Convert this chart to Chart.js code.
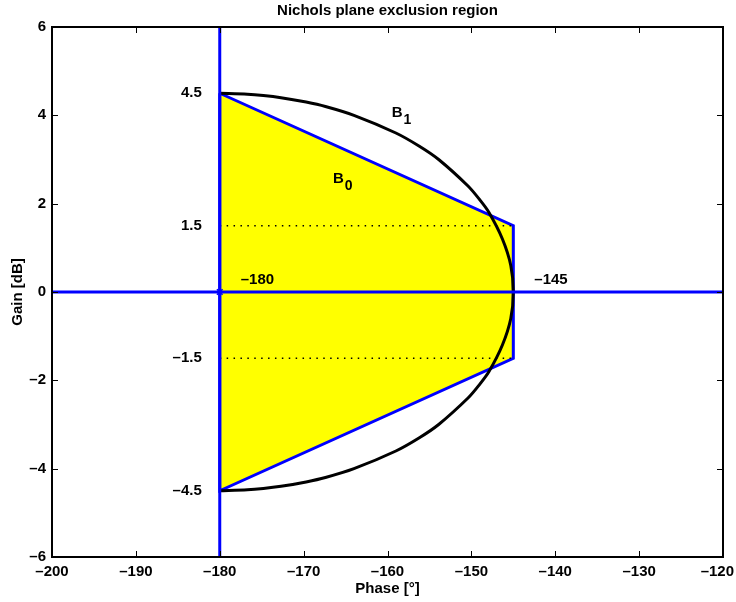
<!DOCTYPE html>
<html>
<head>
<meta charset="utf-8">
<title>Nichols plane exclusion region</title>
<script src="https://cdn.jsdelivr.net/npm/chart.js@4/dist/chart.umd.min.js"></script>
<style>
  html, body { margin: 0; padding: 0; background: #fff; }
  canvas { display: block; }
</style>
</head>
<body>
<canvas id="nichols" width="736" height="602"></canvas>
<script>
// Axis ticks
const phaseTicks = [-200, -190, -180, -170, -160, -150, -140, -130, -120];
const gainTicks = [-6, -4, -2, 0, 2, 4, 6];

// Critical phase and the right edge of the B0 region (deg)
const criticalPhase = -180;
const edgePhase = -145;

// Corner gains of the B0 region (dB), top to bottom
const b0Gains = [4.5, 1.5, -1.5, -4.5];

// B1 boundary, sampled top to bottom
const b1Gain = [4.5, 4.48, 4.45, 4.4, 4.3, 4.2, 4.0, 3.6, 3.3, 3.0, 2.4, 2.1, 1.8, 1.2, 0.6, 0,
                -0.6, -1.2, -1.8, -2.1, -2.4, -3.0, -3.3, -3.6, -4.0, -4.2, -4.3, -4.4, -4.45, -4.48, -4.5];
const b1Phase = [-180, -176.7, -174.8, -172.7, -169.7, -167.4, -164.0, -159.0, -156.2, -153.9, -150.4, -149.05, -147.9, -146.3, -145.3, -145.0,
                 -145.3, -146.3, -147.9, -149.05, -150.4, -153.9, -156.2, -159.0, -164.0, -167.4, -169.7, -172.7, -174.8, -176.7, -180];

const FONT_FAMILY = "'Liberation Sans', Arial, Helvetica, sans-serif";
const BLUE = '#0000ff';
const YELLOW = '#ffff00';

Chart.defaults.font.family = FONT_FAMILY;
Chart.defaults.color = '#000';

const fmt = v => String(v).replace('-', '\u2013');
const pts = (xs, ys) => xs.map((x, i) => ({ x, y: ys[i] }));

// B0 polygon, closed back to its first corner
const b0Outline = [
  { x: criticalPhase, y: b0Gains[0] },
  { x: edgePhase, y: b0Gains[1] },
  { x: edgePhase, y: b0Gains[2] },
  { x: criticalPhase, y: b0Gains[3] },
  { x: criticalPhase, y: b0Gains[0] }
];

const phaseMin = phaseTicks[0], phaseMax = phaseTicks[phaseTicks.length - 1];
const gainMin = gainTicks[0], gainMax = gainTicks[gainTicks.length - 1];

// Boundary names with a subscript index, anchored in data coordinates
const boundaryNames = [
  { base: 'B', sub: '1', phase: -159.5, gain: 4.05 },
  { base: 'B', sub: '0', phase: -166.5, gain: 2.56 }
];

// Box around the plot area with inward ticks on all four sides
const frame = {
  id: 'frame',
  afterDraw(chart) {
    const { ctx, chartArea: a, scales: { x, y } } = chart;
    const len = 6;
    ctx.save();
    ctx.strokeStyle = '#000';
    ctx.lineWidth = 1;
    ctx.beginPath();
    phaseTicks.forEach(v => {
      const px = Math.round(x.getPixelForValue(v)) + 0.5;
      ctx.moveTo(px, a.bottom); ctx.lineTo(px, a.bottom - len);
      ctx.moveTo(px, a.top); ctx.lineTo(px, a.top + len);
    });
    gainTicks.forEach(v => {
      const py = Math.round(y.getPixelForValue(v)) + 0.5;
      ctx.moveTo(a.left, py); ctx.lineTo(a.left + len, py);
      ctx.moveTo(a.right, py); ctx.lineTo(a.right - len, py);
    });
    ctx.stroke();
    ctx.lineWidth = 2;
    ctx.strokeRect(a.left, a.top, a.right - a.left, a.bottom - a.top);
    ctx.restore();
  }
};

// Value labels for the region corners and the boundary names
const textMarks = {
  id: 'textMarks',
  afterDatasetsDraw(chart) {
    const { ctx, scales: { x, y } } = chart;
    ctx.save();
    ctx.fillStyle = '#000';
    ctx.font = 'bold 15px ' + FONT_FAMILY;
    ctx.textBaseline = 'middle';

    const xc = x.getPixelForValue(criticalPhase);
    ctx.textAlign = 'right';
    b0Gains.forEach(g => ctx.fillText(fmt(g), xc - 18, y.getPixelForValue(g)));

    ctx.textAlign = 'left';
    const y0 = y.getPixelForValue(0);
    [criticalPhase, edgePhase].forEach(p => ctx.fillText(fmt(p), x.getPixelForValue(p) + 21, y0 - 12.5));

    boundaryNames.forEach(n => {
      const px = x.getPixelForValue(n.phase);
      const py = y.getPixelForValue(n.gain);
      ctx.font = 'bold 15px ' + FONT_FAMILY;
      ctx.fillText(n.base, px, py);
      const w = ctx.measureText(n.base).width;
      ctx.font = 'bold 14px ' + FONT_FAMILY;
      ctx.fillText(n.sub, px + w + 1, py + 7);
    });
    ctx.restore();
  }
};

// Keep the last phase label inside the canvas
const edgeLabels = {
  id: 'edgeLabels',
  beforeDraw(chart) {
    const sx = chart.scales.x;
    if (!sx || typeof sx.getLabelItems !== 'function') return;
    const items = sx.getLabelItems(chart.chartArea);
    const ctx = chart.ctx;
    ctx.save();
    ctx.font = 'bold 15px ' + FONT_FAMILY;
    items.forEach(it => {
      if (!it || !it.options || !it.options.translation) return;
      const w = ctx.measureText(String(it.label)).width;
      const right = it.options.translation[0] + w / 2;
      if (right > chart.width - 2) {
        it.options.translation[0] = chart.width - 2;
        it.options.textAlign = 'right';
      }
    });
    ctx.restore();
  }
};

const tickFont = { size: 15, weight: 'bold', family: FONT_FAMILY };

new Chart(document.getElementById('nichols'), {
  type: 'scatter',
  data: {
    datasets: [
      {
        label: 'B0',
        data: b0Outline,
        showLine: true,
        fill: 'shape',
        backgroundColor: YELLOW,
        borderColor: BLUE,
        borderWidth: 3,
        pointRadius: 0,
        tension: 0,
        order: 6
      },
      {
        label: 'upper level',
        data: [{ x: criticalPhase, y: b0Gains[1] }, { x: edgePhase, y: b0Gains[1] }],
        showLine: true,
        borderColor: '#000',
        borderWidth: 1.5,
        borderDash: [1.5, 5.4],
        pointRadius: 0,
        order: 5
      },
      {
        label: 'lower level',
        data: [{ x: criticalPhase, y: b0Gains[2] }, { x: edgePhase, y: b0Gains[2] }],
        showLine: true,
        borderColor: '#000',
        borderWidth: 1.5,
        borderDash: [1.5, 5.4],
        pointRadius: 0,
        order: 5
      },
      {
        label: 'B1',
        data: pts(b1Phase, b1Gain),
        showLine: true,
        borderColor: '#000',
        borderWidth: 3,
        pointRadius: 0,
        tension: 0.3,
        order: 3
      },
      {
        label: 'critical phase',
        data: [{ x: criticalPhase, y: gainMin }, { x: criticalPhase, y: gainMax }],
        showLine: true,
        borderColor: BLUE,
        borderWidth: 3,
        pointRadius: 0,
        order: 1
      },
      {
        label: '0 dB',
        data: [{ x: phaseMin, y: 0 }, { x: phaseMax, y: 0 }],
        showLine: true,
        borderColor: BLUE,
        borderWidth: 3,
        pointRadius: 0,
        order: 1
      },
      {
        label: 'critical point',
        data: [{ x: criticalPhase, y: 0 }],
        showLine: false,
        pointStyle: 'star',
        pointRadius: 4,
        borderColor: BLUE,
        backgroundColor: BLUE,
        borderWidth: 1.5,
        order: 0
      }
    ]
  },
  options: {
    responsive: false,
    animation: false,
    events: [],
    layout: { padding: { left: 0, right: 13, top: 0, bottom: 0 } },
    plugins: {
      legend: { display: false },
      tooltip: { enabled: false },
      title: {
        display: true,
        fullSize: false,
        text: 'Nichols plane exclusion region',
        color: '#000',
        font: { size: 15, weight: 'bold', family: FONT_FAMILY },
        padding: { top: 2, bottom: 7 }
      }
    },
    scales: {
      x: {
        type: 'linear',
        min: phaseMin,
        max: phaseMax,
        afterBuildTicks: s => { s.ticks = phaseTicks.map(v => ({ value: v })); },
        ticks: { callback: v => fmt(v), font: tickFont, color: '#000', padding: 6, maxRotation: 0 },
        grid: { display: false, drawTicks: false },
        border: { display: false },
        title: {
          display: true,
          text: 'Phase [°]',
          color: '#000',
          font: tickFont,
          padding: { top: 0, bottom: 4 }
        },
        afterFit: s => { s.height = 45; s.paddingRight = 0; }
      },
      y: {
        type: 'linear',
        min: gainMin,
        max: gainMax,
        afterBuildTicks: s => { s.ticks = gainTicks.map(v => ({ value: v })); },
        ticks: { callback: v => fmt(v), font: tickFont, color: '#000', padding: 6 },
        grid: { display: false, drawTicks: false },
        border: { display: false },
        title: {
          display: true,
          text: 'Gain [dB]',
          color: '#000',
          font: tickFont,
          padding: { top: 9, bottom: 0 }
        },
        afterFit: s => { s.width = 52; }
      }
    }
  },
  plugins: [edgeLabels, textMarks, frame]
});
</script>
</body>
</html>
